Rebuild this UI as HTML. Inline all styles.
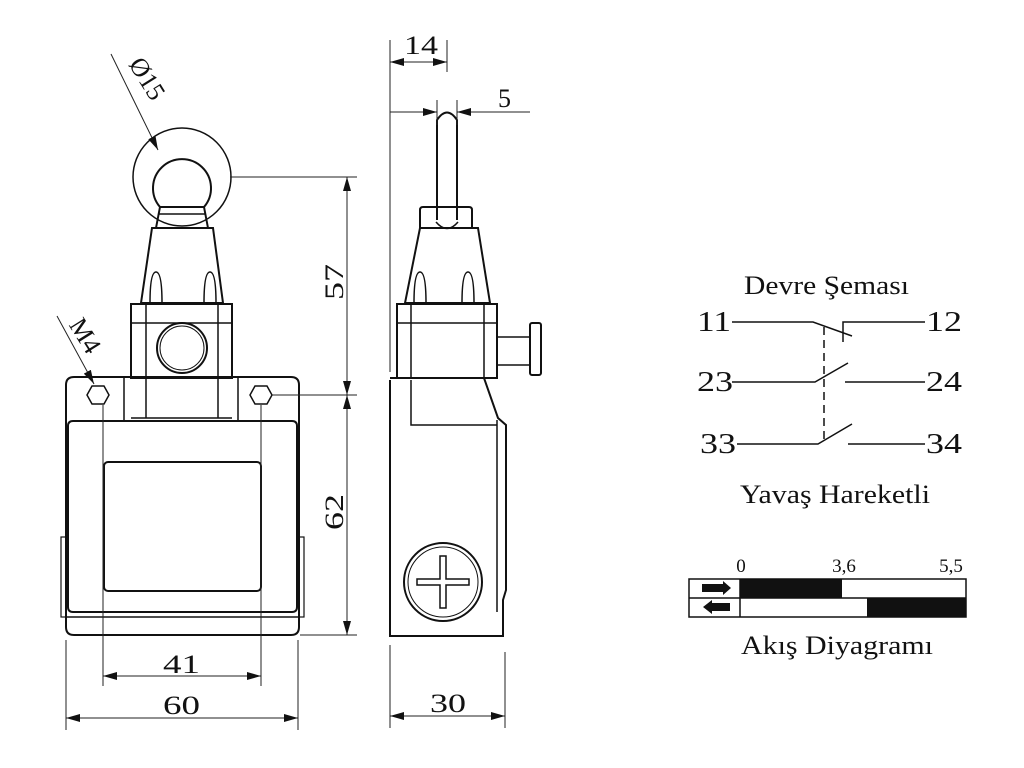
<!DOCTYPE html>
<html><head><meta charset="utf-8"><style>
html,body{margin:0;padding:0;background:#fff}
svg{display:block}
text{font-family:"Liberation Serif",serif;fill:#111}
</style></head><body>
<svg width="1024" height="768" viewBox="0 0 1024 768" xmlns="http://www.w3.org/2000/svg">
<defs>
<marker id="a" viewBox="0 0 14 8" refX="14" refY="4" markerWidth="14" markerHeight="8" markerUnits="userSpaceOnUse" orient="auto-start-reverse"><path d="M0,0 L14,4 L0,8 z" fill="#111"/></marker>
</defs>
<g fill="none" stroke="#111" stroke-width="2">
<!-- FRONT VIEW -->
<circle cx="182" cy="177" r="49" stroke-width="1.5"/>
<path d="M160,207 A29,29 0 1 1 204,207" />
<path d="M156,228 L160,207 L204,207 L208,228"/>
<line x1="158" y1="214" x2="206" y2="214" stroke-width="1.5"/>
<path d="M152,228 L213,228 L223,303 L141,303 Z"/>
<path d="M150,303 Q150,272 156,272 Q162,272 162,303" stroke-width="1.5"/>
<path d="M204,303 Q204,272 210,272 Q216,272 216,303" stroke-width="1.5"/>
<rect x="131" y="304" width="101" height="74"/>
<line x1="146" y1="304" x2="146" y2="418" stroke-width="1.5"/>
<line x1="218" y1="304" x2="218" y2="418" stroke-width="1.5"/>
<line x1="131" y1="323" x2="232" y2="323" stroke-width="1.5"/>
<circle cx="182" cy="348" r="25"/>
<circle cx="182" cy="348" r="22" stroke-width="1"/>
<path d="M66,385 Q66,377 74,377 L291,377 Q299,377 299,385 L299,627 Q299,635 291,635 L74,635 Q66,635 66,627 Z"/>
<line x1="124" y1="377" x2="124" y2="421" stroke-width="1.5"/>
<line x1="238" y1="377" x2="238" y2="421" stroke-width="1.5"/>
<line x1="131" y1="418" x2="232" y2="418" stroke-width="1.5"/>
<path d="M68,426 Q68,421 73,421 L292,421 Q297,421 297,426 L297,607 Q297,612 292,612 L73,612 Q68,612 68,607 Z"/>
<line x1="66" y1="617" x2="299" y2="617" stroke-width="1.5"/>
<rect x="104" y="462" width="157" height="129" rx="4"/>
<rect x="61" y="537" width="5" height="80" stroke-width="1.2"/>
<rect x="299" y="537" width="5" height="80" stroke-width="1.2"/>
<path d="M92,386 L104,386 L109,395 L104,404 L92,404 L87,395 Z" stroke-width="1.5"/>
<path d="M255,386 L267,386 L272,395 L267,404 L255,404 L250,395 Z" stroke-width="1.5"/>
<!-- SIDE VIEW -->
<path d="M437,220 L437,120 Q447,105 457,120 L457,220" />
<path d="M420,228 L420,210 Q420,207 423,207 L469,207 Q472,207 472,210 L472,228"/>
<path d="M436,222 Q447,235 458,222" stroke-width="1.5"/>
<path d="M420,228 L478,228 L490,303 L405,303 Z"/>
<path d="M414,303 Q414,272 420,272 Q426,272 426,303" stroke-width="1.5"/>
<path d="M462,303 Q462,272 468,272 Q474,272 474,303" stroke-width="1.5"/>
<rect x="397" y="304" width="100" height="74"/>
<line x1="411" y1="304" x2="411" y2="378" stroke-width="1.5"/>
<line x1="484" y1="304" x2="484" y2="378" stroke-width="1.5"/>
<line x1="397" y1="323" x2="497" y2="323" stroke-width="1.5"/>
<rect x="497" y="337" width="33" height="28" stroke-width="1.5"/>
<rect x="530" y="323" width="11" height="52" rx="2" stroke-width="2"/>
<path d="M390,380 L390,636 L503,636 L503,600 L506,590 L506,425 L498,418 L484,378 L390,378"/>
<path d="M411,380 L411,425 L497,425" stroke-width="1.5"/>
<line x1="497" y1="420" x2="497" y2="612" stroke-width="1.5"/>
<circle cx="443" cy="582" r="39"/>
<circle cx="443" cy="582" r="35" stroke-width="1"/>
<path d="M440,556 L446,556 L446,579 L469,579 L469,585 L446,585 L446,608 L440,608 L440,585 L417,585 L417,579 L440,579 Z" stroke-width="1.5"/>
</g>
<!-- dimension lines -->
<g fill="none" stroke="#222" stroke-width="1">
<line x1="230" y1="177" x2="357" y2="177"/>
<line x1="272" y1="395" x2="357" y2="395"/>
<line x1="300" y1="635" x2="357" y2="635"/>
<line x1="347" y1="177" x2="347" y2="395" marker-start="url(#a)" marker-end="url(#a)"/>
<line x1="347" y1="395" x2="347" y2="635" marker-start="url(#a)" marker-end="url(#a)"/>
<line x1="103" y1="405" x2="103" y2="686"/>
<line x1="261" y1="405" x2="261" y2="686"/>
<line x1="103" y1="676" x2="261" y2="676" marker-start="url(#a)" marker-end="url(#a)"/>
<line x1="66" y1="640" x2="66" y2="730"/>
<line x1="298" y1="640" x2="298" y2="730"/>
<line x1="66" y1="718" x2="298" y2="718" marker-start="url(#a)" marker-end="url(#a)"/>
<line x1="111" y1="54" x2="158" y2="150" marker-end="url(#a)"/>
<line x1="57" y1="316" x2="94" y2="384" marker-end="url(#a)"/>
<line x1="390" y1="40" x2="390" y2="372"/>
<line x1="447" y1="40" x2="447" y2="72"/>
<line x1="390" y1="62" x2="447" y2="62" marker-start="url(#a)" marker-end="url(#a)"/>
<line x1="437" y1="100" x2="437" y2="125"/>
<line x1="457" y1="100" x2="457" y2="125"/>
<line x1="390" y1="112" x2="437" y2="112" marker-end="url(#a)"/>
<line x1="530" y1="112" x2="457" y2="112" marker-end="url(#a)"/>
<line x1="390" y1="645" x2="390" y2="728"/>
<line x1="505" y1="652" x2="505" y2="728"/>
<line x1="390" y1="716" x2="505" y2="716" marker-start="url(#a)" marker-end="url(#a)"/>
</g>
<g font-size="26">
<text x="337" y="282" text-anchor="middle" transform="rotate(-90 337 282)" dominant-baseline="middle" textLength="36" lengthAdjust="spacingAndGlyphs">57</text>
<text x="337" y="512" text-anchor="middle" transform="rotate(-90 337 512)" dominant-baseline="middle" textLength="36" lengthAdjust="spacingAndGlyphs">62</text>
<text x="163" y="673" textLength="37" lengthAdjust="spacingAndGlyphs">41</text>
<text x="163" y="714" textLength="37" lengthAdjust="spacingAndGlyphs">60</text>
<text x="430" y="712" textLength="36" lengthAdjust="spacingAndGlyphs">30</text>
<text x="404" y="54" textLength="34" lengthAdjust="spacingAndGlyphs">14</text>
<text x="498" y="107">5</text>
<text x="145" y="80" text-anchor="middle" dominant-baseline="middle" transform="rotate(58 145 80)">Ø15</text>
<text x="83" y="337" text-anchor="middle" dominant-baseline="middle" transform="rotate(58 83 337)">M4</text>
</g>
<!-- schematic -->
<g font-size="28">
<text x="744" y="294" font-size="26" textLength="165" lengthAdjust="spacingAndGlyphs">Devre Şeması</text>
<text x="697" y="331" textLength="34" lengthAdjust="spacingAndGlyphs">11</text>
<text x="926" y="331" textLength="36" lengthAdjust="spacingAndGlyphs">12</text>
<text x="697" y="391" textLength="36" lengthAdjust="spacingAndGlyphs">23</text>
<text x="926" y="391" textLength="36" lengthAdjust="spacingAndGlyphs">24</text>
<text x="700" y="453" textLength="36" lengthAdjust="spacingAndGlyphs">33</text>
<text x="926" y="453" textLength="36" lengthAdjust="spacingAndGlyphs">34</text>
<text x="740" y="503" font-size="26" textLength="190" lengthAdjust="spacingAndGlyphs">Yavaş Hareketli</text>
<text x="741" y="654" font-size="26" textLength="192" lengthAdjust="spacingAndGlyphs">Akış Diyagramı</text>
</g>
<g fill="none" stroke="#111" stroke-width="1.5">
<path d="M732,322 L813,322 L852,336"/>
<path d="M843,342 L843,322 L925,322"/>
<path d="M732,382 L815,382 L848,363"/>
<line x1="845" y1="382" x2="925" y2="382"/>
<path d="M737,444 L818,444 L852,424"/>
<line x1="848" y1="444" x2="925" y2="444"/>
<line x1="824" y1="327" x2="824" y2="442" stroke-dasharray="8,5"/>
</g>
<g font-size="19">
<text x="741" y="572" text-anchor="middle">0</text>
<text x="844" y="572" text-anchor="middle">3,6</text>
<text x="951" y="572" text-anchor="middle">5,5</text>
</g>
<rect x="740" y="579" width="102" height="19" fill="#111"/>
<rect x="867" y="598" width="99" height="19" fill="#111"/>
<g fill="none" stroke="#111" stroke-width="1.5">
<rect x="689" y="579" width="277" height="38"/>
<line x1="689" y1="598" x2="966" y2="598"/>
<line x1="740" y1="579" x2="740" y2="617"/>
</g>
<path d="M702,584 L723,584 L723,581 L731,588 L723,595 L723,592 L702,592 Z" fill="#111"/>
<path d="M730,603 L712,603 L712,600 L703,607 L712,614 L712,611 L730,611 Z" fill="#111"/>
</svg>
</body></html>
